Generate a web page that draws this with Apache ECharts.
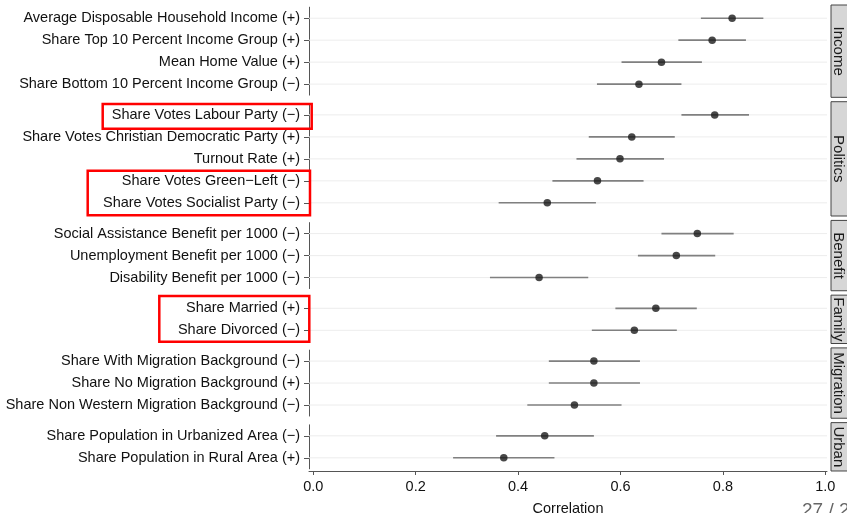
<!DOCTYPE html>
<html>
<head>
<meta charset="utf-8">
<script src="https://cdn.jsdelivr.net/npm/echarts@6/dist/echarts.min.js"></script>
<style>
html,body{margin:0;padding:0;background:#fff;}
#chart{width:847px;height:513px;}
</style>
</head>
<body>
<div id="chart"></div>
<script>
// ---- data ----
const groups = ['Income', 'Politics', 'Benefit', 'Family', 'Migration', 'Urban'];
const groupSizes = [4, 5, 3, 2, 3, 2];
const labels = [
  'Average Disposable Household Income (+)',
  'Share Top 10 Percent Income Group (+)',
  'Mean Home Value (+)',
  'Share Bottom 10 Percent Income Group (\u2212)',
  'Share Votes Labour Party (\u2212)',
  'Share Votes Christian Democratic Party (+)',
  'Turnout Rate (+)',
  'Share Votes Green\u2212Left (\u2212)',
  'Share Votes Socialist Party (\u2212)',
  'Social Assistance Benefit per 1000 (\u2212)',
  'Unemployment Benefit per 1000 (\u2212)',
  'Disability Benefit per 1000 (\u2212)',
  'Share Married (+)',
  'Share Divorced (\u2212)',
  'Share With Migration Background (\u2212)',
  'Share No Migration Background (+)',
  'Share Non Western Migration Background (\u2212)',
  'Share Population in Urbanized Area (\u2212)',
  'Share Population in Rural Area (+)'
];
const estimates = [0.818, 0.779, 0.680, 0.636, 0.784, 0.622, 0.599, 0.555, 0.457, 0.750, 0.709, 0.441, 0.669, 0.627, 0.548, 0.548, 0.510, 0.452, 0.372];
const lower     = [0.757, 0.713, 0.602, 0.554, 0.719, 0.538, 0.514, 0.467, 0.362, 0.680, 0.634, 0.345, 0.590, 0.544, 0.460, 0.460, 0.418, 0.357, 0.273];
const upper     = [0.879, 0.845, 0.759, 0.719, 0.851, 0.706, 0.685, 0.645, 0.552, 0.821, 0.785, 0.537, 0.749, 0.710, 0.638, 0.638, 0.602, 0.548, 0.471];
const xTicks = [0, 0.2, 0.4, 0.6, 0.8, 1.0];
const xTitle = 'Correlation';
const pageText = '27 / 27';

// ---- layout ----
const unit = 21.98, gap = 4.4, top0 = 5, leftX = 309, rightPad = 20;
const xMin = -0.0084, xMax = 1.0033;
const FONT = '"Liberation Sans", Arial, Helvetica, sans-serif';

const grids = [], xAxes = [], yAxes = [], series = [], graphics = [];
let pTop = top0, start = 0;
groupSizes.forEach((n, g) => {
  const ph = (n + 0.2) * unit;
  const last = g === groupSizes.length - 1;
  grids.push({left: leftX, right: rightPad, top: pTop + 0.1 * unit, height: n * unit,
    containLabel: false, outerBoundsMode: 'none'});
  xAxes.push({
    gridIndex: g, type: 'value', min: xMin, max: xMax,
    show: last,
    offset: last ? 0.1 * unit : 0,
    axisLine: {show: true, onZero: false, lineStyle: {color: '#555', width: 1}},
    axisTick: {show: true, length: 4, lineStyle: {color: '#555'}, customValues: xTicks},
    axisLabel: {show: true, customValues: xTicks, formatter: v => Number(v).toFixed(1), fontSize: 14.5, color: '#111', margin: 9, fontFamily: FONT},
    splitLine: {show: false},
    name: last ? xTitle : '', nameLocation: 'middle', nameGap: 31,
    nameTextStyle: {fontSize: 14.5, color: '#111', fontFamily: FONT}
  });
  const cats = labels.slice(start, start + n);
  yAxes.push({
    gridIndex: g, type: 'category', data: cats, inverse: true,
    axisLine: {show: true, onZero: false, lineStyle: {color: '#555', width: 1}},
    axisTick: {show: true, alignWithLabel: true, interval: 0, length: 5, lineStyle: {color: '#555'}},
    axisLabel: {interval: 0, fontSize: 14.5, color: '#111', margin: 9, fontFamily: FONT},
    splitLine: {show: false}
  });
  const ciData = [], ptData = [];
  for (let i = 0; i < n; i++) {
    ciData.push([lower[start + i], upper[start + i], i]);
    ptData.push([estimates[start + i], i]);
  }
  series.push({
    type: 'custom', xAxisIndex: g, yAxisIndex: g, data: ciData,
    encode: {x: [0, 1], y: 2}, silent: true, z: 2,
    renderItem: (params, api) => {
      const cs = params.coordSys;
      const a = api.coord([api.value(0), api.value(2)]);
      const b = api.coord([api.value(1), api.value(2)]);
      return {type: 'group', children: [
        {type: 'line', shape: {x1: cs.x, y1: a[1], x2: cs.x + cs.width, y2: a[1]}, style: {stroke: '#ededed', lineWidth: 1}},
        {type: 'line', shape: {x1: a[0], y1: a[1], x2: b[0], y2: b[1]}, style: {stroke: '#808080', lineWidth: 1.6}}
      ]};
    }
  });
  series.push({
    type: 'scatter', xAxisIndex: g, yAxisIndex: g, data: ptData,
    symbol: 'circle', symbolSize: 7.5, itemStyle: {color: '#1a1a1a'}, z: 3, silent: true
  });
  // strip
  graphics.push({type: 'rect', shape: {x: 831, y: pTop, width: 26, height: ph},
    style: {fill: '#d6d6d6', stroke: '#444', lineWidth: 1}, z: 10});
  graphics.push({type: 'text', x: 838.5, y: pTop + ph / 2, rotation: -Math.PI / 2,
    style: {text: groups[g], fontSize: 15, fill: '#1a1a1a', fontFamily: FONT, textAlign: 'center', textVerticalAlign: 'middle'}, z: 11});
  pTop += ph + gap;
  start += n;
});

// red highlight boxes (annotations)
[[102.7, 104, 209, 24.7], [87.7, 170.7, 222.3, 44.6], [159.3, 296, 150, 45.7]].forEach(r => {
  graphics.push({type: 'rect', shape: {x: r[0], y: r[1], width: r[2], height: r[3]},
    style: {fill: 'none', stroke: '#ff0000', lineWidth: 2.5}, z: 12});
});
graphics.push({type: 'text', x: 802, y: 501, style: {text: pageText, fontSize: 19, fill: '#666', fontFamily: FONT}, z: 12});

const chart = echarts.init(document.getElementById('chart'), null, {renderer: 'canvas'});
chart.setOption({
  animation: false,
  backgroundColor: '#fff',
  textStyle: {fontFamily: FONT},
  grid: grids, xAxis: xAxes, yAxis: yAxes, series: series, graphic: graphics
});
</script>
</body>
</html>
